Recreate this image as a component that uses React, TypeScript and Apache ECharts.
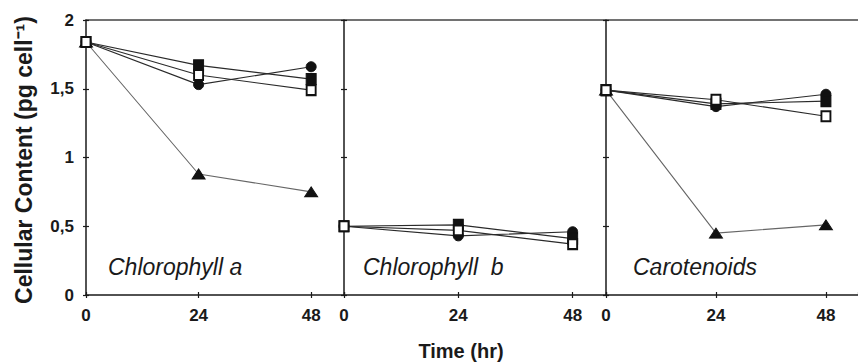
import React, { useEffect, useRef } from "react";
import * as echarts from "echarts";

const HOURS = [0, 24, 48];
const Y_TICK_VALUES = [0, 0.5, 1, 1.5, 2];

const PANEL_TITLES = ["Chlorophyll a", "Chlorophyll  b", "Carotenoids"];

// Chlorophyll a
const CHLA_FILLED_SQUARE = [1.84, 1.67, 1.57];
const CHLA_OPEN_SQUARE = [1.84, 1.6, 1.49];
const CHLA_FILLED_CIRCLE = [1.84, 1.53, 1.66];
const CHLA_TRIANGLE = [1.84, 0.88, 0.75];

// Chlorophyll b
const CHLB_FILLED_SQUARE = [0.5, 0.51, 0.41];
const CHLB_OPEN_SQUARE = [0.5, 0.47, 0.37];
const CHLB_FILLED_CIRCLE = [0.5, 0.43, 0.46];

// Carotenoids
const CAR_FILLED_SQUARE = [1.49, 1.39, 1.41];
const CAR_OPEN_SQUARE = [1.49, 1.42, 1.3];
const CAR_FILLED_CIRCLE = [1.49, 1.37, 1.46];
const CAR_TRIANGLE = [1.49, 0.45, 0.51];

const FONT = "'Liberation Sans', Arial, Helvetica, sans-serif";
const INK = "#1a1a1a";

const pts = (vals: number[]) => vals.map((v, i) => [HOURS[i], v]);

export default function App() {
  const ref = useRef<HTMLDivElement>(null);

  useEffect(() => {
    if (!ref.current) return;
    const chart = echarts.init(ref.current, null, { renderer: "svg" });

    const grids = [
      { left: 86, top: 20, width: 258, height: 275 },
      { left: 344, top: 20, width: 262, height: 275 },
      { left: 606, top: 20, width: 266, height: 275 },
    ];

    const xAxes: any[] = [];
    const yAxes: any[] = [];
    grids.forEach((_, g) => {
      xAxes.push({
        type: "value",
        gridIndex: g,
        min: 0,
        max: 55,
        interval: 24,
        position: "bottom",
        splitLine: { show: false },
        axisLine: { show: true, onZero: false, lineStyle: { color: INK, width: 1.5 } },
        axisTick: { show: true, inside: false, length: 3, lineStyle: { color: INK, width: 1.2 } },
        axisLabel: {
          show: true,
          margin: 12,
          showMaxLabel: false,
          color: INK,
          fontFamily: FONT,
          fontWeight: "bold",
          fontSize: 17,
        },
      });
      xAxes.push({
        type: "value",
        gridIndex: g,
        min: 0,
        max: 55,
        interval: 24,
        position: "bottom",
        splitLine: { show: false },
        axisLine: { show: false, onZero: false },
        axisTick: { show: true, inside: true, length: 3, lineStyle: { color: INK, width: 1.2 } },
        axisLabel: { show: false },
      });
      xAxes.push({
        type: "value",
        gridIndex: g,
        min: 0,
        max: 55,
        position: "top",
        splitLine: { show: false },
        axisLine: { show: true, onZero: false, lineStyle: { color: "#444", width: 1.5 } },
        axisTick: { show: false },
        axisLabel: { show: false },
      });

      yAxes.push({
        type: "value",
        gridIndex: g,
        min: 0,
        max: 2,
        interval: 0.5,
        position: "left",
        splitLine: { show: false },
        axisLine: { show: true, onZero: false, lineStyle: { color: INK, width: 1.5 } },
        axisTick: { show: true, inside: false, length: 3, lineStyle: { color: INK, width: 1.2 } },
        axisLabel: {
          show: g === 0,
          margin: 12,
          color: INK,
          fontFamily: FONT,
          fontWeight: "bold",
          fontSize: 17,
          formatter: (v: number) =>
            Y_TICK_VALUES.includes(v) ? String(v).replace(".", ",") : "",
        },
      });
      yAxes.push({
        type: "value",
        gridIndex: g,
        min: 0,
        max: 2,
        interval: 0.5,
        position: "left",
        splitLine: { show: false },
        axisLine: { show: false, onZero: false },
        axisTick: { show: true, inside: true, length: 3, lineStyle: { color: INK, width: 1.2 } },
        axisLabel: { show: false },
      });
    });

    const mk = (
      name: string,
      vals: number[],
      g: number,
      kind: "fsq" | "osq" | "fci" | "tri"
    ) => {
      const base: any = {
        name,
        type: "line",
        xAxisIndex: g * 3,
        yAxisIndex: g * 2,
        data: pts(vals),
        lineStyle: { color: kind === "tri" ? "#666" : "#2a2a2a", width: 1.1 },
        symbolKeepAspect: true,
        z: 3,
      };
      if (kind === "fsq") {
        base.symbol = "rect";
        base.symbolSize = [10, 11];
        base.itemStyle = { color: "#111", borderColor: "#111", borderWidth: 1 };
      } else if (kind === "osq") {
        base.symbol = "rect";
        base.symbolSize = [9, 10];
        base.itemStyle = { color: "#fff", borderColor: "#111", borderWidth: 2 };
        base.z = 5;
      } else if (kind === "fci") {
        base.symbol = "circle";
        base.symbolSize = 10;
        base.itemStyle = { color: "#111", borderColor: "#111", borderWidth: 1 };
      } else {
        base.symbol = "triangle";
        base.symbolSize = [13, 10];
        base.itemStyle = { color: "#111", borderColor: "#111", borderWidth: 1 };
        base.z = 2;
      }
      return base;
    };

    const series = [
      mk("Chl a ▲", CHLA_TRIANGLE, 0, "tri"),
      mk("Chl a ●", CHLA_FILLED_CIRCLE, 0, "fci"),
      mk("Chl a ■", CHLA_FILLED_SQUARE, 0, "fsq"),
      mk("Chl a □", CHLA_OPEN_SQUARE, 0, "osq"),
      mk("Chl b ●", CHLB_FILLED_CIRCLE, 1, "fci"),
      mk("Chl b ■", CHLB_FILLED_SQUARE, 1, "fsq"),
      mk("Chl b □", CHLB_OPEN_SQUARE, 1, "osq"),
      mk("Car ▲", CAR_TRIANGLE, 2, "tri"),
      mk("Car ●", CAR_FILLED_CIRCLE, 2, "fci"),
      mk("Car ■", CAR_FILLED_SQUARE, 2, "fsq"),
      mk("Car □", CAR_OPEN_SQUARE, 2, "osq"),
    ];

    const titleStyle = {
      fill: INK,
      font: `italic 23px ${FONT}`,
      textVerticalAlign: "middle",
    };

    chart.setOption({
      animation: false,
      backgroundColor: "#fff",
      grid: grids,
      xAxis: xAxes,
      yAxis: yAxes,
      series,
      graphic: [
        { type: "text", left: 108, top: 255, style: { ...titleStyle, text: PANEL_TITLES[0] } },
        { type: "text", left: 363, top: 255, style: { ...titleStyle, text: PANEL_TITLES[1] } },
        { type: "text", left: 633, top: 255, style: { ...titleStyle, text: PANEL_TITLES[2] } },
        {
          type: "text",
          x: 461,
          y: 351,
          style: {
            text: "Time (hr)",
            fill: INK,
            font: `bold 20px ${FONT}`,
            textAlign: "center",
            textVerticalAlign: "middle",
          },
        },
        {
          type: "text",
          x: 24,
          y: 160,
          rotation: Math.PI / 2,
          style: {
            text: "Cellular Content (pg cell⁻¹)",
            fill: INK,
            font: `bold 23px ${FONT}`,
            textAlign: "center",
            textVerticalAlign: "middle",
          },
        },
      ],
    });

    return () => chart.dispose();
  }, []);

  return (
    <div
      ref={ref}
      style={{ position: "fixed", left: 0, top: 0, width: 858, height: 362, background: "#fff" }}
    />
  );
}
